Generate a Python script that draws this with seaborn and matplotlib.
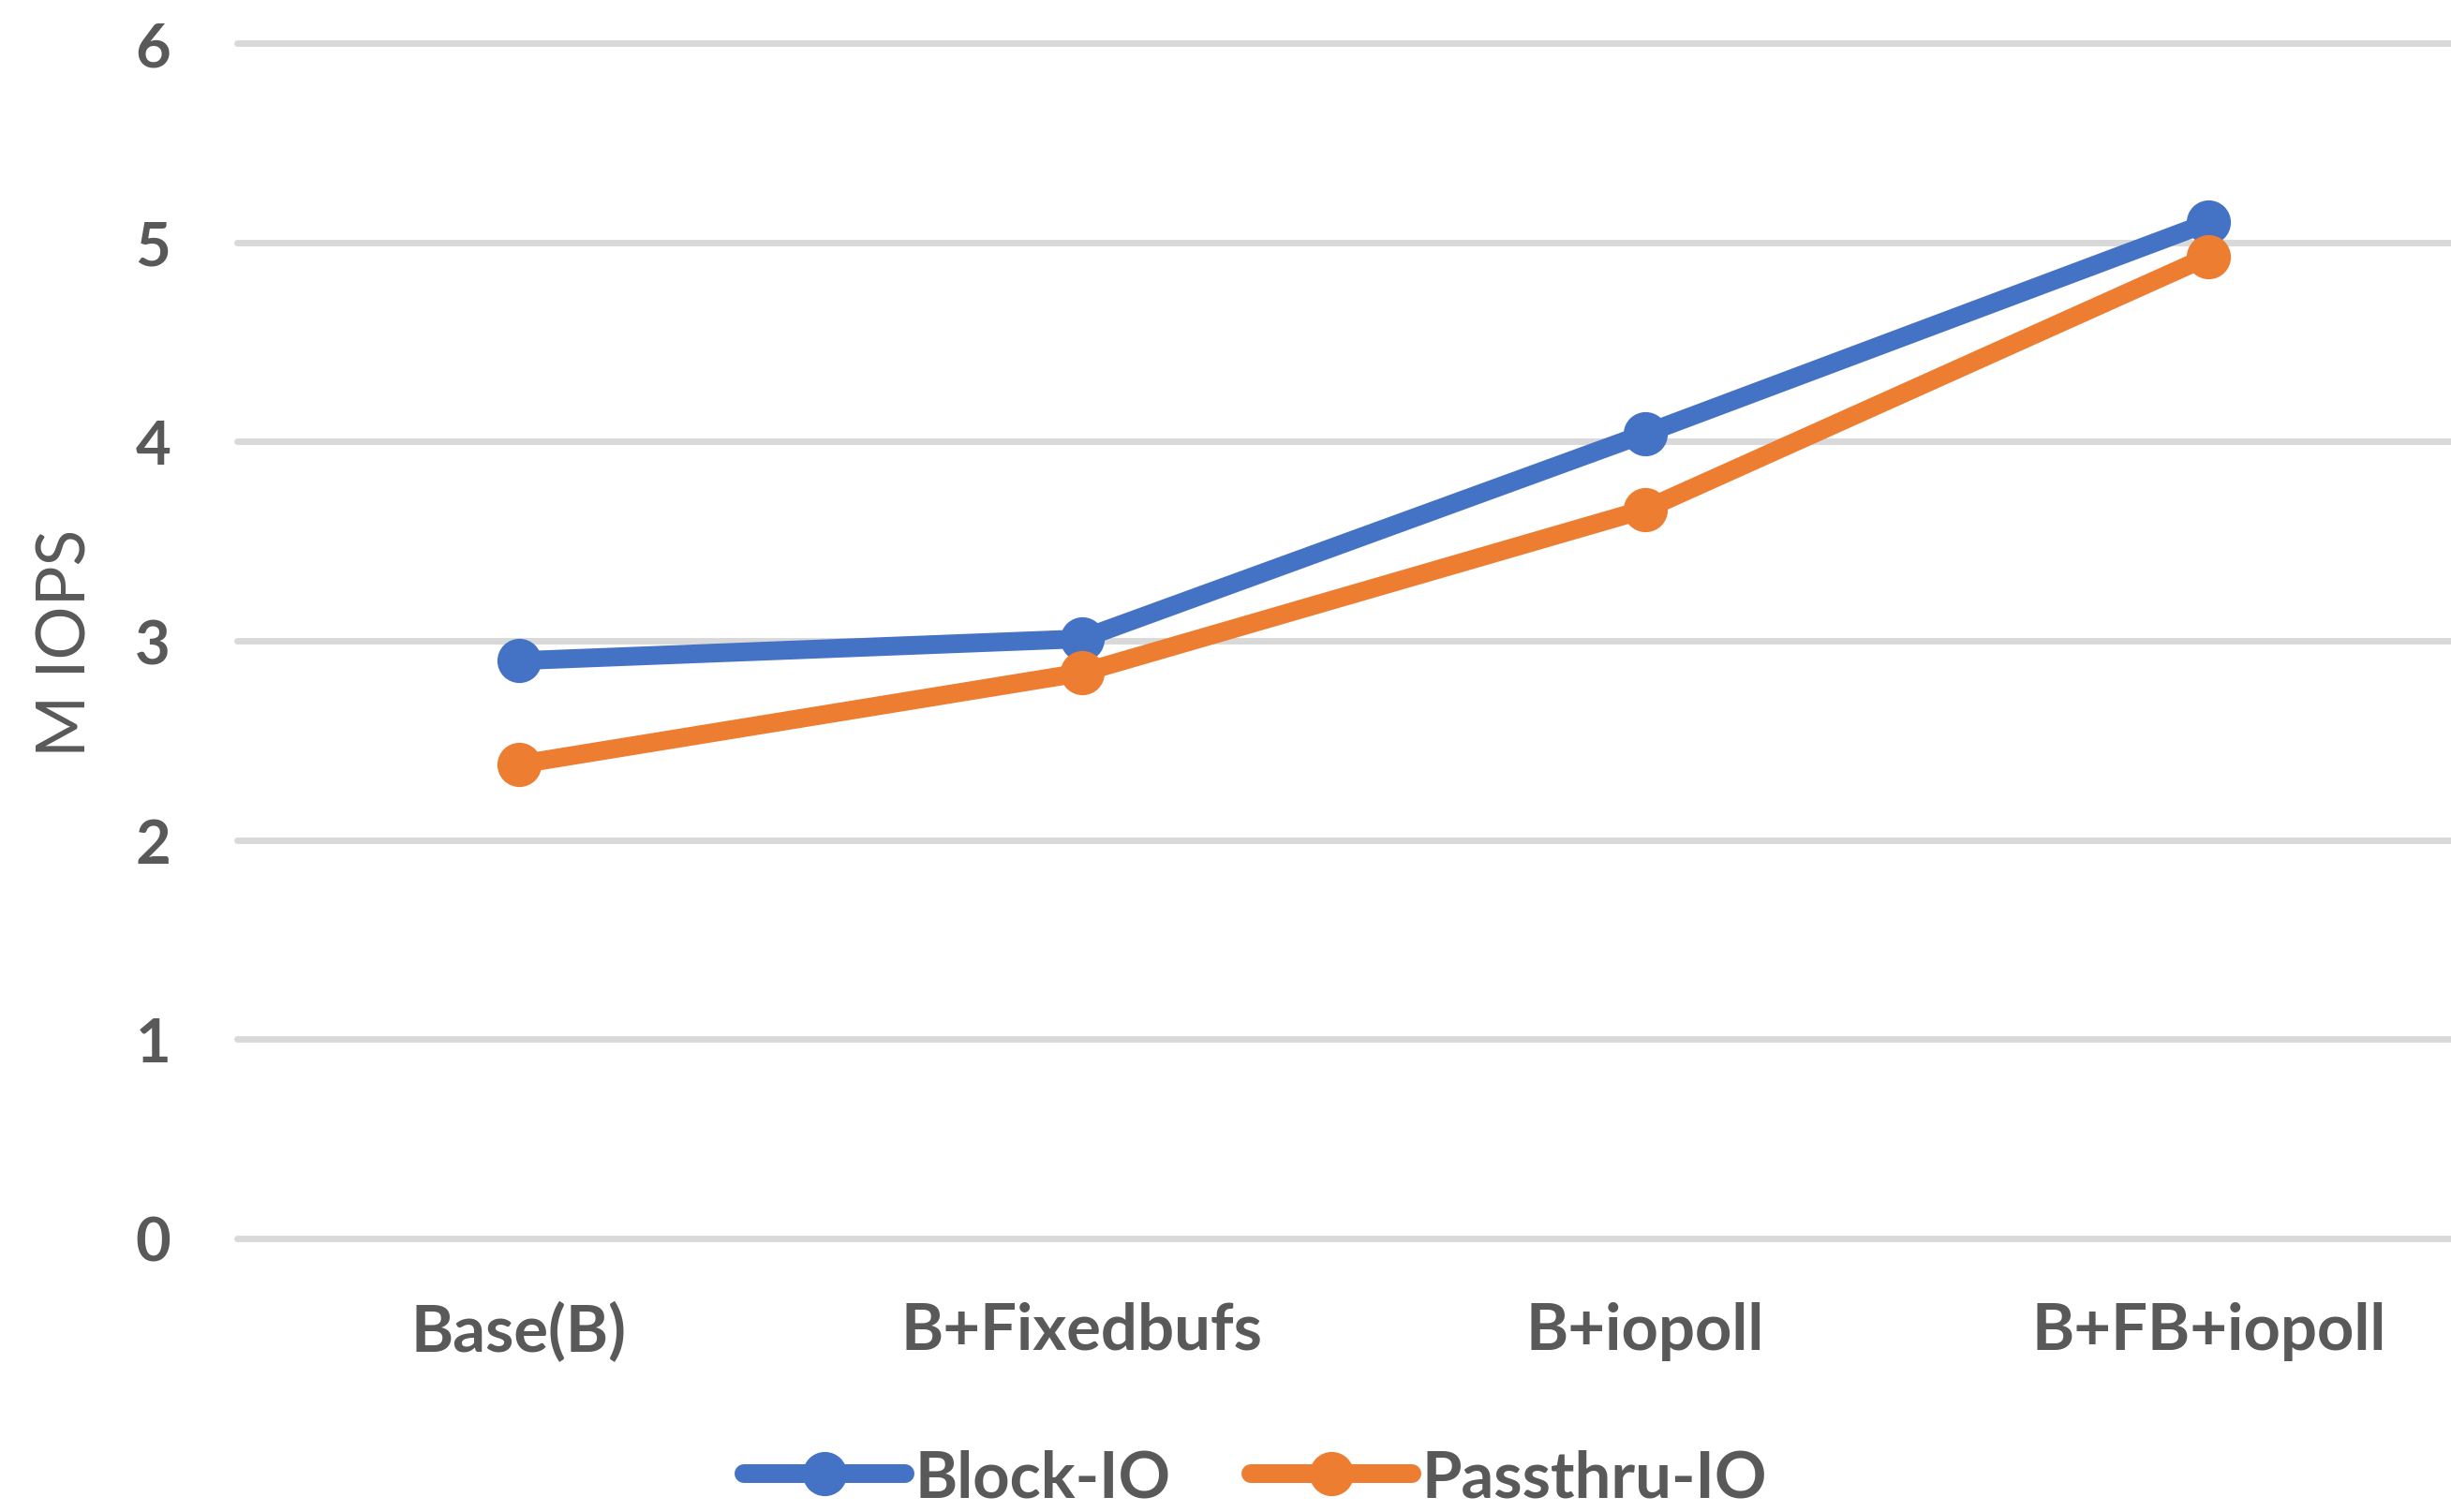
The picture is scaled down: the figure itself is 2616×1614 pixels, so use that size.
import matplotlib
matplotlib.use("Agg")
import matplotlib.pyplot as plt
from matplotlib.lines import Line2D
import seaborn as sns
import pandas as pd

# Data
categories = ["Base(B)", "B+Fixedbufs", "B+iopoll", "B+FB+iopoll"]
block_io = [2.90, 3.01, 4.04, 5.10]
passthru_io = [2.38, 2.84, 3.66, 4.93]
series_names = ["Block-IO", "Passthru-IO"]
y_ticks = [0, 1, 2, 3, 4, 5, 6]
y_label = "M IOPS"

colors = ["#4472C4", "#ED7D31"]
text_color = "#595959"
grid_color = "#D9D9D9"

df = pd.DataFrame({
    "category": categories * 2,
    "value": block_io + passthru_io,
    "series": [series_names[0]] * len(categories) + [series_names[1]] * len(categories),
})

sns.set_theme(style="white")
plt.rcParams["font.family"] = ["Lato", "DejaVu Sans"]

W, H = 2616, 1615
fig = plt.figure(figsize=(W / 100, H / 100), dpi=100)
ax = fig.add_axes([253 / W, 1 - 1323 / H, (2658 - 253) / W, (1323 - 47) / H])

line_w = 14.4
marker_s = 34

sns.lineplot(
    data=df, x="category", y="value", hue="series",
    hue_order=series_names, palette=colors, sort=False,
    marker="o", markersize=marker_s, markeredgewidth=0,
    linewidth=line_w, legend=False, ax=ax,
)

ax.set_xlim(-0.5, len(categories) - 0.5)
ax.set_ylim(0, 6)
ax.set_yticks(y_ticks)
ax.set_xticks(range(len(categories)))
ax.set_xticklabels(categories)

for s in ax.spines.values():
    s.set_visible(False)

ax.set_axisbelow(True)
ax.yaxis.grid(True, color=grid_color, linewidth=5)
ax.xaxis.grid(False)
for gl in ax.get_ygridlines():
    gl.set_clip_on(False)

ax.tick_params(axis="y", length=0, colors=text_color, labelsize=47, pad=51)
ax.tick_params(axis="x", length=0, colors=text_color, labelsize=49.5, pad=48)
for lbl in ax.get_xticklabels() + ax.get_yticklabels():
    lbl.set_fontweight("bold")
    lbl.set_color(text_color)

ax.set_xlabel("")
ax.set_ylabel("")
fig.text(71 / W, 1 - 686 / H, y_label, rotation=90, ha="center", va="center",
         fontsize=51.5, color=text_color)

handles = [
    Line2D([], [], color=c, linewidth=line_w, marker="o",
           markersize=marker_s, markeredgewidth=0)
    for c in colors
]
leg = fig.legend(
    handles, series_names, loc="center",
    bbox_to_anchor=(1340 / W, 1 - 1579 / H), bbox_transform=fig.transFigure,
    ncol=2, frameon=False, fontsize=49.5, handlelength=2.5,
    handletextpad=0.15, columnspacing=1.25, borderpad=0, borderaxespad=0,
)
for t in leg.get_texts():
    t.set_color(text_color)
    t.set_fontweight("bold")

fig.savefig("out.png", dpi=100)
